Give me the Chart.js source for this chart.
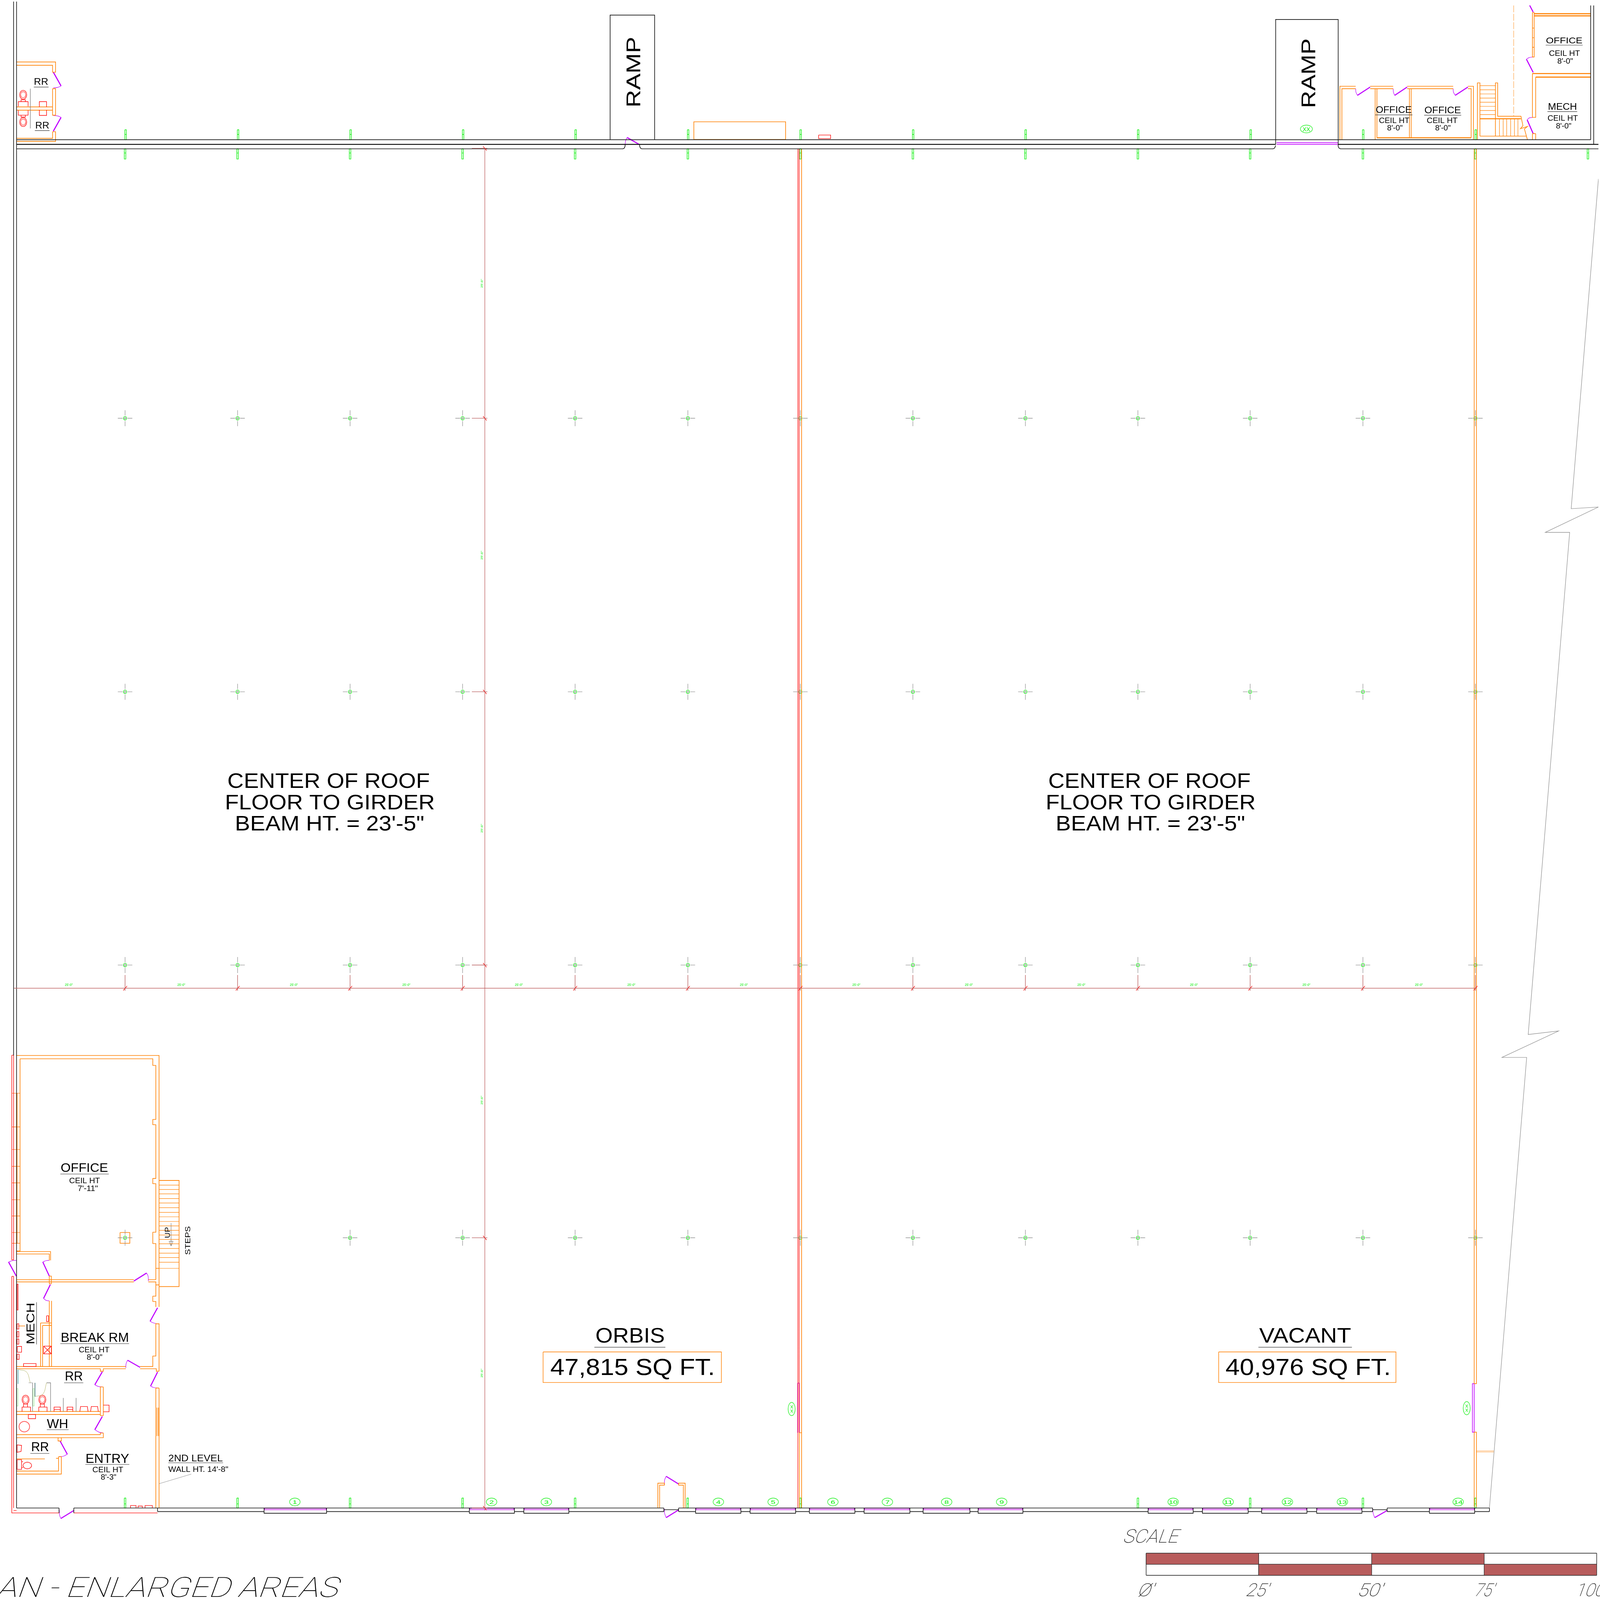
<!DOCTYPE html>
<html><head><meta charset="utf-8"><title>Floor plan - enlarged areas</title>
<style>html,body{margin:0;padding:0;background:#fff;overflow:hidden}canvas{display:block}</style>
<script src="https://cdn.jsdelivr.net/npm/chart.js@4"></script>
</head><body><canvas id="plan"></canvas>
<script>
// Data coordinates are the reference's 6387x5791 pixels. The canvas takes the real window size,
// which can be smaller than requested, so the whole plan always stays in view.
const PLAN_W = 6387, PLAN_H = 5791;
// ---------- structural grid ----------
const gridColumnsX = [494,944,1394,1844,2294,2745,3195,3645,4095,4545,4994,5445,5895];
const gridRowsY = [1511,2503,3494,4483];
const lastRowColumnsX = [494,1394,1844,2294,2745,3195,3645,4095,4545,4994,5445,5895];
const lowerStubX = [494,944,1394,1844,2294,2745,3195,3645,4095,4545,4994,5445,5895,6345];
const upperStubX = [496,946,1396,1846,2296,2746,3196,3646,4096,4546,4996,5446,5896];
const floorStubX = [494,944,1394,1844,2294,2744,3195,4545,4994,5445,5895];
const dimensionMidX = [269,719,1169,1619,2069,2519,2969,3419,3869,4319,4769,5219,5669];
const dimensionMidY = [1022,2008,2998,3984,4974];
const dimensionRowsY = [532,1511,2503,3494,4483,5463];
const dimensionTickX = [50,494,944,1394,1844,2294,2745,3195,3645,4095,4545,4994,5445,5895];
// ---------- windows on the south wall ----------
const windowStartX = [1050,1871,2089,2776,2994,3231,3450,3686,3906,4586,4803,5040,5260,5711];
const windowEndX   = [1300,2051,2269,2957,3176,3413,3633,3873,4085,4766,4986,5221,5441,5892];
const windowNumberX = [1173,1960,2179,2867,3086,3325,3543,3780,4000,4686,4906,5143,5363,5826];
const windowNumbers = ['1','2','3','4','5','6','7','8','9','10','11','12','13','14'];
const stepRungsY = [4275,4292,4308,4324,4341,4357,4374,4391,4407,4424,4440,4456,4473,4489,4505,4522,4539,4555,4572,4594];
const upperStairRungsY = [305,320,335,350,365,380,395,410];
const upperStairTreadsX = [5991,6006,6020,6036,6051,6065];
const officeWallTicksY = [3959,4081,4163,4224,4284,4345,4404,4464,4503];
const scaleBarX = [4578,5028,5480,5930,6380];
const scaleBarY = [5627,5667,5707];

// ---------- line work: every entry is one polyline x,y,x,y,... ----------
const blackLines = [
 [48,0,48,3822],[60,0,60,5463],[60,501,6356,501],[60,534,2486,534,2491,531,2494,524,2494,518],
 [2552,518,2552,524,2555,531,2560,534,5086,534,5092,531,5096,522],[5096,518,5096,65,5346,65,5346,525,5349,531,5355,534,6387,534],
 [2434,501,2434,49,2612,49,2612,501],[6356,14,6356,501],[6368,14,6368,518],
 [60,5463,230,5463],[289,5463,2649,5463],[2708,5463,5484,5463],[5542,5463,5951,5463],
 [2649,5463,2649,5476],[2708,5463,2708,5476],[2649,5469,2708,5469],[5484,5463,5484,5476],[5542,5463,5542,5476],[5484,5469,5542,5469],
 [230,5463,230,5481],[289,5463,289,5481],[624,5463,624,5476],[5951,5463,5951,5476]
];
const heavyBlackLines = [[60,518,5096,518],[5346,518,6387,518]];
const lowerWallSpans = [[624,1050],[1300,1871],[2051,2089],[2269,2649],[2708,2776],[2957,2994],[3176,3231],[3413,3450],[3633,3686],[3873,3906],[4085,4586],[4766,4803],[4986,5040],[5221,5260],[5441,5484],[5542,5711],[5892,5951]];
const breakLine = [[5951,5463,6100,3829,6001,3829,6228,3733,6106,3746,6272,1925,6174,1925,6387,1833,6278,1839,6387,643]];
const grayLines = [
 [115,316,115,460],[124,5009,124,5113],[133,5009,133,5059],[180,5009,196,5009,196,5113],[247,5064,247,5113],[298,5064,298,5113]
];
const thinGrayLines = [[630,5375,759,5340],[108,5009,124,5009]];
const underlines = [
 [2371,4880,2655,4880],[5027,4880,5401,4880],[235,4252,429,4252],[235,4867,510,4867],[250,5009,327,5009],[181,5179,268,5179],[115,5265,191,5265],
 [335,5305,511,5305],[667,5299,886,5299],[129,310,188,310],[133,468,192,468],[6176,158,6324,158],[6183,399,6302,399],[5494,411,5643,411],[5690,412,5838,412],[140,4717,140,4870]
];
const orangeLines = [
 [74,3834,605,3834,605,3858,617,3858,617,4054,605,4054,605,4073,617,4073,617,4268,605,4268,605,4287,617,4287,617,4463,605,4463,605,4504,617,4504,617,4635],
 [60,3822,630,3822,630,4734],[74,3834,74,4531,60,4531],[62,3959,62,4503],[60,4533,196,4533,196,4565],[60,4542,191,4542,191,4565],
 [60,4635,529,4635],[60,4643,529,4643],[587,4635,617,4635],[587,4643,617,4643,617,4695,605,4695,605,4714,617,4714,617,4734],
 [191,4622,191,4650,199,4650,199,4622,191,4622],[191,4712,191,4950],[200,4712,200,4950],[156,4792,200,4792],[164,4801,200,4801],[156,4792,156,4950],[164,4801,164,4950],
 [60,4950,497,4950],[60,4958,395,4958,395,4967,407,4967,407,4958,497,4958],[554,4950,605,4950,605,4912,617,4912,617,4795,630,4795,630,4967],[554,4958,619,4958,619,4967,630,4967],
 [617,5028,617,5463],[630,5028,630,5463],[617,5028,630,5028],[622,5099,622,5202],[628,5099,628,5202],
 [395,5024,395,5128],[407,5024,407,5128],[395,5024,407,5024],[60,5113,395,5113],[60,5124,395,5124],[395,5128,407,5128],
 [395,5191,395,5197,60,5197],[407,5191,407,5208,60,5208],[395,5191,407,5191],[226,5208,226,5220,239,5220,239,5208],
 [228,5277,228,5329,60,5329],[239,5277,239,5340,60,5340],[228,5277,239,5277],[218,5283,228,5283],[60,5285,173,5285],
 [474,4464,513,4464,513,4503,474,4503,474,4464],[67,4803,94,4803],
 [630,4275,710,4275,710,4660,630,4660],[617,4594,630,4594],[617,4654,630,4654],
 [60,219,216,219,216,256,204,256,204,231,60,231],[204,316,216,316,216,412,204,412,204,316],[60,382,204,382],[60,394,204,394],[204,472,216,472,216,507,60,507],[204,472,204,496,60,496],
 [2625,5463,2625,5373,2651,5373,2651,5380,2632,5380,2632,5463],[2727,5463,2727,5380,2708,5380,2708,5373,2734,5373,2734,5463],
 [3191,5190,3191,5463],[3200,534,3200,5463],[3191,5190,3200,5190],
 [5890,534,5890,5012],[5890,5188,5890,5459],[5899,534,5899,5012,5890,5012],[5890,5188,5899,5188,5899,5459],
 [2769,501,2769,436,3136,436,3136,501],[2769,500,3136,500],
 [5353,501,5353,307,5416,307],[5361,501,5361,316,5416,316],[5474,307,5566,307],[5474,316,5566,316],[5622,307,5806,307],[5622,316,5806,316],[5865,307,5887,307,5887,501],[5865,316,5878,316,5878,494],
 [5494,316,5494,501],[5501,316,5501,494],[5631,316,5631,494],[5638,316,5638,494],
 [5903,501,5903,295,5913,295,5913,488],[5975,425,5975,295,5984,295,5984,416,6077,416,6085,450,6075,461,6103,453,6091,462,6103,501],[5913,488,6098,488],[5975,425,5975,488],
 [6123,40,6123,201,6130,201,6130,40,6123,40],[6123,96,6130,96],[6123,131,6130,131],[6123,166,6130,166],
 [6123,261,6123,420,6136,420,6136,274],[6123,479,6123,501],[6136,479,6136,501],[6123,479,6136,479]
];
const thinOrangeLines = [[5899,5256,5969,5256],[5899,5260,5969,5260]];
const heavyOrangeLines = [[6130,44,6356,44],[6130,52,6356,52],[6123,261,6356,261],[6136,274,6356,274],[5501,494,5878,494],[5913,425,6077,425]];
const orangeDashLines = [[6048,14,6048,415]];
const boxLines = [[2166,4897,2879,4897,2879,5008,2166,5008,2166,4897],[4868,4897,5577,4897,5577,5008,4868,5008,4868,4897]];
const redLines = [
 [41,3821,41,4563,48,4563,48,3821,41,3821],[41,4623,41,5481,230,5481],[48,4623,48,5463],[41,4623,48,4623],[289,5481,624,5481],[48,5472,60,5472],
 [3185,534,3185,5463],[3190,534,3190,5190],[3268,484,3316,484,3316,497,3268,497,3268,484],
 [62,4651,66,4651,66,4745,62,4745,62,4651],[62,4795,69,4795,69,4814,62,4814,62,4795],[62,4823,69,4823,69,4843,62,4843,62,4823],[62,4850,69,4850,69,4869,62,4869,62,4850],
 [63,4877,80,4877,80,4898,63,4898,63,4877],[62,4905,70,4905,70,4924,62,4924,62,4905],[88,4939,138,4939,138,4950,88,4950,88,4939],[180,4766,188,4766,188,4787,180,4787,180,4766],
 [168,4876,199,4876,199,4904,168,4904,168,4876],[168,4876,199,4904],[199,4876,168,4904],[107,5124,136,5124,136,5139,107,5139,107,5124],[407,5090,430,5090,430,5114,407,5114],
 [516,5463,516,5454,538,5454,538,5463],[546,5463,546,5456,563,5456,563,5463],[574,5463,574,5454,603,5454,603,5463],
 [82,5113,82,5097,116,5097,116,5113],[149,5113,149,5097,182,5097,182,5113],[88,5097,88,5086,104,5086,104,5097],[155,5097,155,5086,171,5086,171,5097],
 [210,5113,210,5097,235,5097,235,5113],[262,5113,262,5097,285,5097,285,5113],[210,5106,235,5106],[262,5106,285,5106],[313,5113,316,5095,343,5095,346,5113],[356,5113,359,5095,384,5095,387,5113],
 [62,5288,80,5288,80,5323,62,5323,62,5288],[80,5295,86,5295],[80,5316,86,5316],[62,5234,80,5236,78,5258,62,5261,62,5234],
 [67,380,67,363,106,363,106,380],[67,395,67,412,106,412,106,395],[151,382,151,363,180,363,180,382],[151,393,151,413,180,413,180,393],[78,363,78,356,95,356,95,363],[78,412,78,419,95,419,95,412]
];
const tealLines = [[66,4961,66,5013],[134,5009,134,5059]];
const oliveArcs = [[68,4961,100,4970,115,5009],[133,5059,165,5050,180,5009]];
const paleGreenBoxes = [[61,5030,66,5030,66,5093,61,5093,61,5030],[126,5030,131,5030,131,5093,126,5093,126,5030]];
const purpleLeaves = [
 [28,4571,59,4622],[165,4571,191,4622],[195,4653,168,4703],[529,4640,580,4611],[504,4927,554,4953],[624,4737,594,4786],[624,4970,596,5021],[403,4969,373,5016],[403,5131,373,5179],[234,5220,263,5268],[289,5472,237,5501],
 [207,256,238,306],[238,420,207,470],[2502,493,2550,518],[2708,5376,2658,5348],[2708,5470,2658,5498],[5542,5472,5492,5498],
 [5423,340,5474,310],[5572,340,5622,310],[5814,340,5865,310],[6112,14,6126,38],[6099,209,6126,257],[6102,429,6126,479]
];
const purpleArcs = [
 [59,4565,44,4566,28,4571],[191,4565,178,4566,165,4571],[168,4703,178,4710,191,4712],[580,4611,586,4622,587,4640],[497,4955,498,4940,504,4927],[594,4786,608,4792,624,4795],[596,5021,608,5026,624,5028],[373,5016,386,5022,403,5024],[373,5179,390,5188,407,5191],[263,5268,248,5275,231,5277],[231,5470,232,5488,237,5501],
 [238,306,225,311,207,313],[207,413,225,415,238,420],[2494,518,2496,505,2502,493],[2658,5348,2652,5362,2651,5380],[2651,5466,2652,5482,2658,5498],[5484,5466,5486,5482,5492,5498],
 [5416,316,5417,328,5423,340],[5566,316,5567,328,5572,340],[5806,316,5807,328,5814,340],[6126,201,6110,203,6099,209],[6126,420,6110,422,6102,429]
];
const purpleStrips = [[5100,512,5346,512],[5100,518,5346,518],[3184,5010,3184,5190],[3191,5010,3191,5190],[3184,5010,3191,5010],[5883,5012,5890,5012,5890,5188,5883,5188,5883,5012]];
const dimensionLines = [[50,3578,5900,3578],[1933,534,1933,5472]];

// ---------- round fixtures and balloons ----------
const fixtureBowls = [[86.5,338],[86.5,437],[96,5070],[163,5070]];
const fixtureBowlsInner = [[86.5,338],[86.5,437],[96,5070],[163,5070]];
const lowerBowls = [[103,5309]];
const waterHeaters = [[91,5168]];
const verticalBalloons = [[3160,5104],[5860,5101]];
const rampBalloons = [[5219,462]];

// ---------- text ----------
const roomLabels = [
 // text, centre x, baseline y, cap height, width
 ['CENTER OF ROOF',1308,2851,55,808],['FLOOR TO GIRDER',1313,2930,55,838],['BEAM HT. = 23\'-5"',1312,3006,55,756],
 ['CENTER OF ROOF',4591,2851,55,808],['FLOOR TO GIRDER',4596,2930,55,838],['BEAM HT. = 23\'-5"',4595,3006,55,756],
 ['ORBIS',2514,4863,55,277],['47,815 SQ FT.',2524,4981,60,657],['VACANT',5214,4863,55,367],['40,976 SQ FT.',5226,4981,60,660],
 ['OFFICE',331,4244,32,189],['CEIL HT',332,4285,21,123],['7\'-11"',345,4313,21,81],
 ['BREAK RM',373,4860,33,272],['CEIL HT',370,4898,21,123],['8\'-0"',372,4926,21,63],
 ['RR',289,5001,33,72],['WH',224,5174,33,85],['RR',154,5257,33,71],
 ['ENTRY',423,5300,33,174],['CEIL HT',425,5333,21,123],['8\'-3"',428,5361,21,62],
 ['2ND LEVEL',776,5294,24,217],['WALL HT. 14\'-8"',787,5332,20,239],
 ['RR',158,302,24,57],['RR',163,461,24,56],
 ['OFFICE',6250,151,23,146],['CEIL HT',6251,197,20,124],['8\'-0"',6254,225,20,63],
 ['MECH',6243,392,25,116],['CEIL HT',6244,432,20,121],['8\'-0"',6248,460,20,62],
 ['OFFICE',5568,404,24,144],['CEIL HT',5570,440,20,122],['8\'-0"',5573,468,20,62],
 ['OFFICE',5764,405,24,146],['CEIL HT',5762,440,20,123],['8\'-0"',5765,468,20,62]
];
const verticalLabels = [
 // text, baseline x, centre y, cap height, length
 ['RAMP',5255,260,56,252],['RAMP',2555,256,56,256],['MECH',131,4794,32,151],['UP',673,4464,21,40],['STEPS',754,4493,21,104]
];
const scaleLabels = [['SCALE',4593,5588,48,220],['\u00D8\'',4573,5783,46,64],['25\'',5019,5783,46,90],['50\'',5470,5783,46,100],['75\'',5927,5783,46,78],['100\'',6355,5783,46,125]];
const titleText = 'AN - ENLARGED AREAS';
const spanText = '25\'-0"';
const balloonText = 'XX';

// ---------- builders ----------
const VIEW_W = window.innerWidth || PLAN_W, VIEW_H = window.innerHeight || PLAN_H;
const SX = VIEW_W/PLAN_W, SY = VIEW_H/PLAN_H, LW = (SX+SY)/2;
const canvasEl = document.getElementById('plan'); canvasEl.width = VIEW_W; canvasEl.height = VIEW_H;
function toPoints(lines){const out=[];lines.forEach(l=>{for(let i=0;i<l.length;i+=2)out.push({x:l[i],y:l[i+1]});out.push({x:null,y:null});});return out;}
function pairs(list){return list.map(p=>({x:p[0],y:p[1]}));}
function ellipseSprite(rx,ry,color,lw){const a=rx*SX,b=ry*SY,w=lw*LW;const c=document.createElement('canvas');c.width=Math.ceil(a*2+w+2);c.height=Math.ceil(b*2+w+2);const g=c.getContext('2d');g.strokeStyle=color;g.lineWidth=w;g.beginPath();g.ellipse(c.width/2,c.height/2,a,b,0,0,Math.PI*2);g.stroke();return c;}
const SOLID=[1000000,0];
function stroke(lines,color,w,extra){return Object.assign({type:'line',data:toPoints(lines),borderColor:color,borderWidth:w*LW,pointRadius:0,fill:false,tension:0,spanGaps:false,borderDash:SOLID,borderJoinStyle:'miter',borderCapStyle:'butt'},extra||{});}
function marks(points,sprite){return {type:'line',data:points,showLine:false,pointStyle:sprite,pointRadius:3,pointBorderWidth:0};}

const crossLines=[],stubLines=[],tickLines=[],extLines=[],windowBlack=[],windowPurple=[];
function addCross(x,y){crossLines.push([x-29,y,x-10,y],[x-6,y,x+6,y],[x+10,y,x+29,y],[x,y-29,x,y-10],[x,y-6,x,y+6],[x,y+10,x,y+29]);}
gridRowsY.slice(0,3).forEach(y=>gridColumnsX.forEach(x=>addCross(x,y)));
lastRowColumnsX.forEach(x=>addCross(x,gridRowsY[3]));
function stubBox(x,y0,y1,yc){stubLines.push([x-3,y0,x+3,y0,x+3,y1,x-3,y1,x-3,y0],[x-3,yc,x+3,yc]);}
upperStubX.forEach(x=>stubBox(x,465,501,482));
lowerStubX.forEach(x=>stubBox(x,534,571,549));
floorStubX.forEach(x=>stubBox(x,5427,5463,5448));
dimensionRowsY.forEach(y=>{extLines.push([1881,y,1943,y]);tickLines.push([1926,y-7,1940,y+8]);});
dimensionTickX.slice(1).forEach(x=>{extLines.push([x,3530,x,3587]);tickLines.push([x-7,3586,x+8,3570]);});
windowStartX.forEach((x0,i)=>{const x1=windowEndX[i];windowBlack.push([x0,5463,x0,5482,x1,5482,x1,5463]);windowPurple.push([x0+2,5464,x1-2,5464,x1-2,5469,x0+2,5469,x0+2,5464]);});
const lowerWall=lowerWallSpans.map(s=>[s[0],5476,s[1],5476]);
const stairLines=stepRungsY.map(y=>[630,y,710,y]).concat(upperStairRungsY.map(y=>[5913,y,5975,y]),upperStairTreadsX.map(x=>[x,425,x,488]));
const officeTicks=officeWallTicksY.map(y=>[41,y,74,y]);
const arrowLines=[[678,4430,678,4510],[670,4496,678,4513,686,4496,670,4496]];

function cell(i,r){return {type:'line',data:[{x:scaleBarX[i],y:scaleBarY[r]},{x:scaleBarX[i+1],y:scaleBarY[r]},{x:scaleBarX[i+1],y:scaleBarY[r+1]},{x:scaleBarX[i],y:scaleBarY[r+1]},{x:scaleBarX[i],y:scaleBarY[r]}],borderColor:'#222',borderWidth:1.5*LW,backgroundColor:'#b85c5c',fill:'shape',pointRadius:0,tension:0};}
const scaleFrame=[[scaleBarX[0],scaleBarY[0],scaleBarX[4],scaleBarY[0]],[scaleBarX[0],scaleBarY[1],scaleBarX[4],scaleBarY[1]],[scaleBarX[0],scaleBarY[2],scaleBarX[4],scaleBarY[2]]].concat(scaleBarX.map(x=>[x,scaleBarY[0],x,scaleBarY[2]]));

const datasets=[
 cell(0,0),cell(2,0),cell(1,1),cell(3,1),
 stroke(scaleFrame,'#111',2),
 stroke(dimensionLines,'#c06464',2),stroke(extLines,'#b85c5c',2),stroke(tickLines,'#ff0000',2),
 stroke(crossLines,'#808080',1.6),
 stroke(breakLine,'#808080',1.6),stroke(grayLines,'#808080',2),stroke(thinGrayLines,'#777',1.2),stroke(underlines,'#333',1.6),
 stroke(blackLines,'#111',2.4),stroke(heavyBlackLines,'#000',3.2),stroke(lowerWall,'#111',2.4),stroke(windowBlack,'#111',2.4),
 stroke(redLines,'#ff0000',2),stroke(officeTicks,'#ff6a00',1.8),
 stroke(orangeLines,'#ff8000',2.4),stroke(thinOrangeLines,'#ff8000',1.2),stroke(heavyOrangeLines,'#ff8000',4),stroke(boxLines,'#ff8c1a',2.4),stroke(stairLines,'#ff8000',1.8),stroke(arrowLines,'#444',1.2),
 stroke(orangeDashLines,'#ff9a33',1.6,{borderDash:[26*LW,6*LW]}),
 stroke(tealLines,'#4aa8b0',2.4),stroke(paleGreenBoxes,'#90ee90',1.4),stroke(oliveArcs,'#b0b060',1.4,{tension:0.4,borderDash:[]}),
 stroke(windowPurple,'#bf00e6',2.2),stroke(purpleStrips,'#bf00ff',2.4),stroke(purpleLeaves,'#bf00ff',4),stroke(purpleArcs,'#bf00ff',1.8,{tension:0.4,borderDash:[]}),
 stroke(stubLines,'#00ee00',2),
 marks(gridRowsY.slice(0,3).flatMap(y=>gridColumnsX.map(x=>({x,y}))).concat(lastRowColumnsX.map(x=>({x,y:gridRowsY[3]}))),ellipseSprite(6.5,6.5,'#00ee00',2)),
 marks(windowNumberX.map(x=>({x,y:5441})),ellipseSprite(21,14,'#00ee00',1.8)),
 marks(pairs(verticalBalloons),ellipseSprite(14,24,'#00ee00',1.8)),
 marks(pairs(rampBalloons),ellipseSprite(24,14,'#00ee00',1.8)),
 marks(pairs(fixtureBowls),ellipseSprite(14,16,'#ff0000',2)),
 marks(pairs(fixtureBowlsInner),ellipseSprite(10,11,'#ff0000',1.6)),
 marks(pairs(lowerBowls),ellipseSprite(17,12,'#ff0000',2)),
 marks(pairs(waterHeaters),ellipseSprite(21,19,'#ff0000',1.8))
];

const planText={id:'planText',afterDatasetsDraw(chart){
 const {ctx,scales:{x,y}}=chart;
 const CAP=0.716;
 function put(text,px,py,cap,width,color,rot,skew,thin){
  const fs=cap/CAP;ctx.save();ctx.translate(x.getPixelForValue(px),y.getPixelForValue(py));
  ctx.scale(SX,SY);
  if(rot)ctx.rotate(rot);
  ctx.font=thin?('100 '+fs+'px Roboto'):(fs+'px "Liberation Sans"');ctx.textAlign='center';ctx.textBaseline='alphabetic';
  const m=ctx.measureText(text).width;
  if(skew)ctx.transform(1,0,-skew,1,0,0);
  ctx.scale(width/m,1);
  ctx.fillStyle=color;ctx.fillText(text,0,0);
  ctx.restore();
 }
 roomLabels.forEach(l=>put(l[0],l[1],l[2],l[3],l[4],'#000'));
 verticalLabels.forEach(l=>put(l[0],l[1],l[2],l[3],l[4],'#000',-Math.PI/2));
 scaleLabels.forEach(l=>put(l[0],l[1],l[2],l[3],l[4],'#000',0,0.4,true));
 put(titleText,660,5785,72,1360,'#000',0,0.4,true);
 windowNumbers.forEach((t,i)=>put(t,windowNumberX[i],5448,13,t.length*18,'#00ee00'));
 dimensionMidX.forEach(mx=>put(spanText,mx,3570,9,32,'#00ee00'));
 dimensionMidY.forEach(my=>put(spanText,1925,my,9,32,'#00ee00',-Math.PI/2));
 rampBalloons.forEach(p=>put(balloonText,p[0],p[1]+8,14,30,'#00ee00'));
 verticalBalloons.forEach(p=>put(balloonText,p[0]+5,p[1],10,30,'#00ee00',-Math.PI/2));
}};

new Chart(canvasEl,{
 type:'line',
 data:{datasets},
 options:{responsive:false,animation:false,devicePixelRatio:1,parsing:{xAxisKey:'x',yAxisKey:'y'},
  layout:{padding:0},events:[],
  plugins:{legend:{display:false},tooltip:{enabled:false},title:{display:false}},
  scales:{x:{type:'linear',min:0,max:PLAN_W,display:false},y:{type:'linear',min:0,max:PLAN_H,reverse:true,display:false}}},
 plugins:[planText]
});
</script></body></html>
